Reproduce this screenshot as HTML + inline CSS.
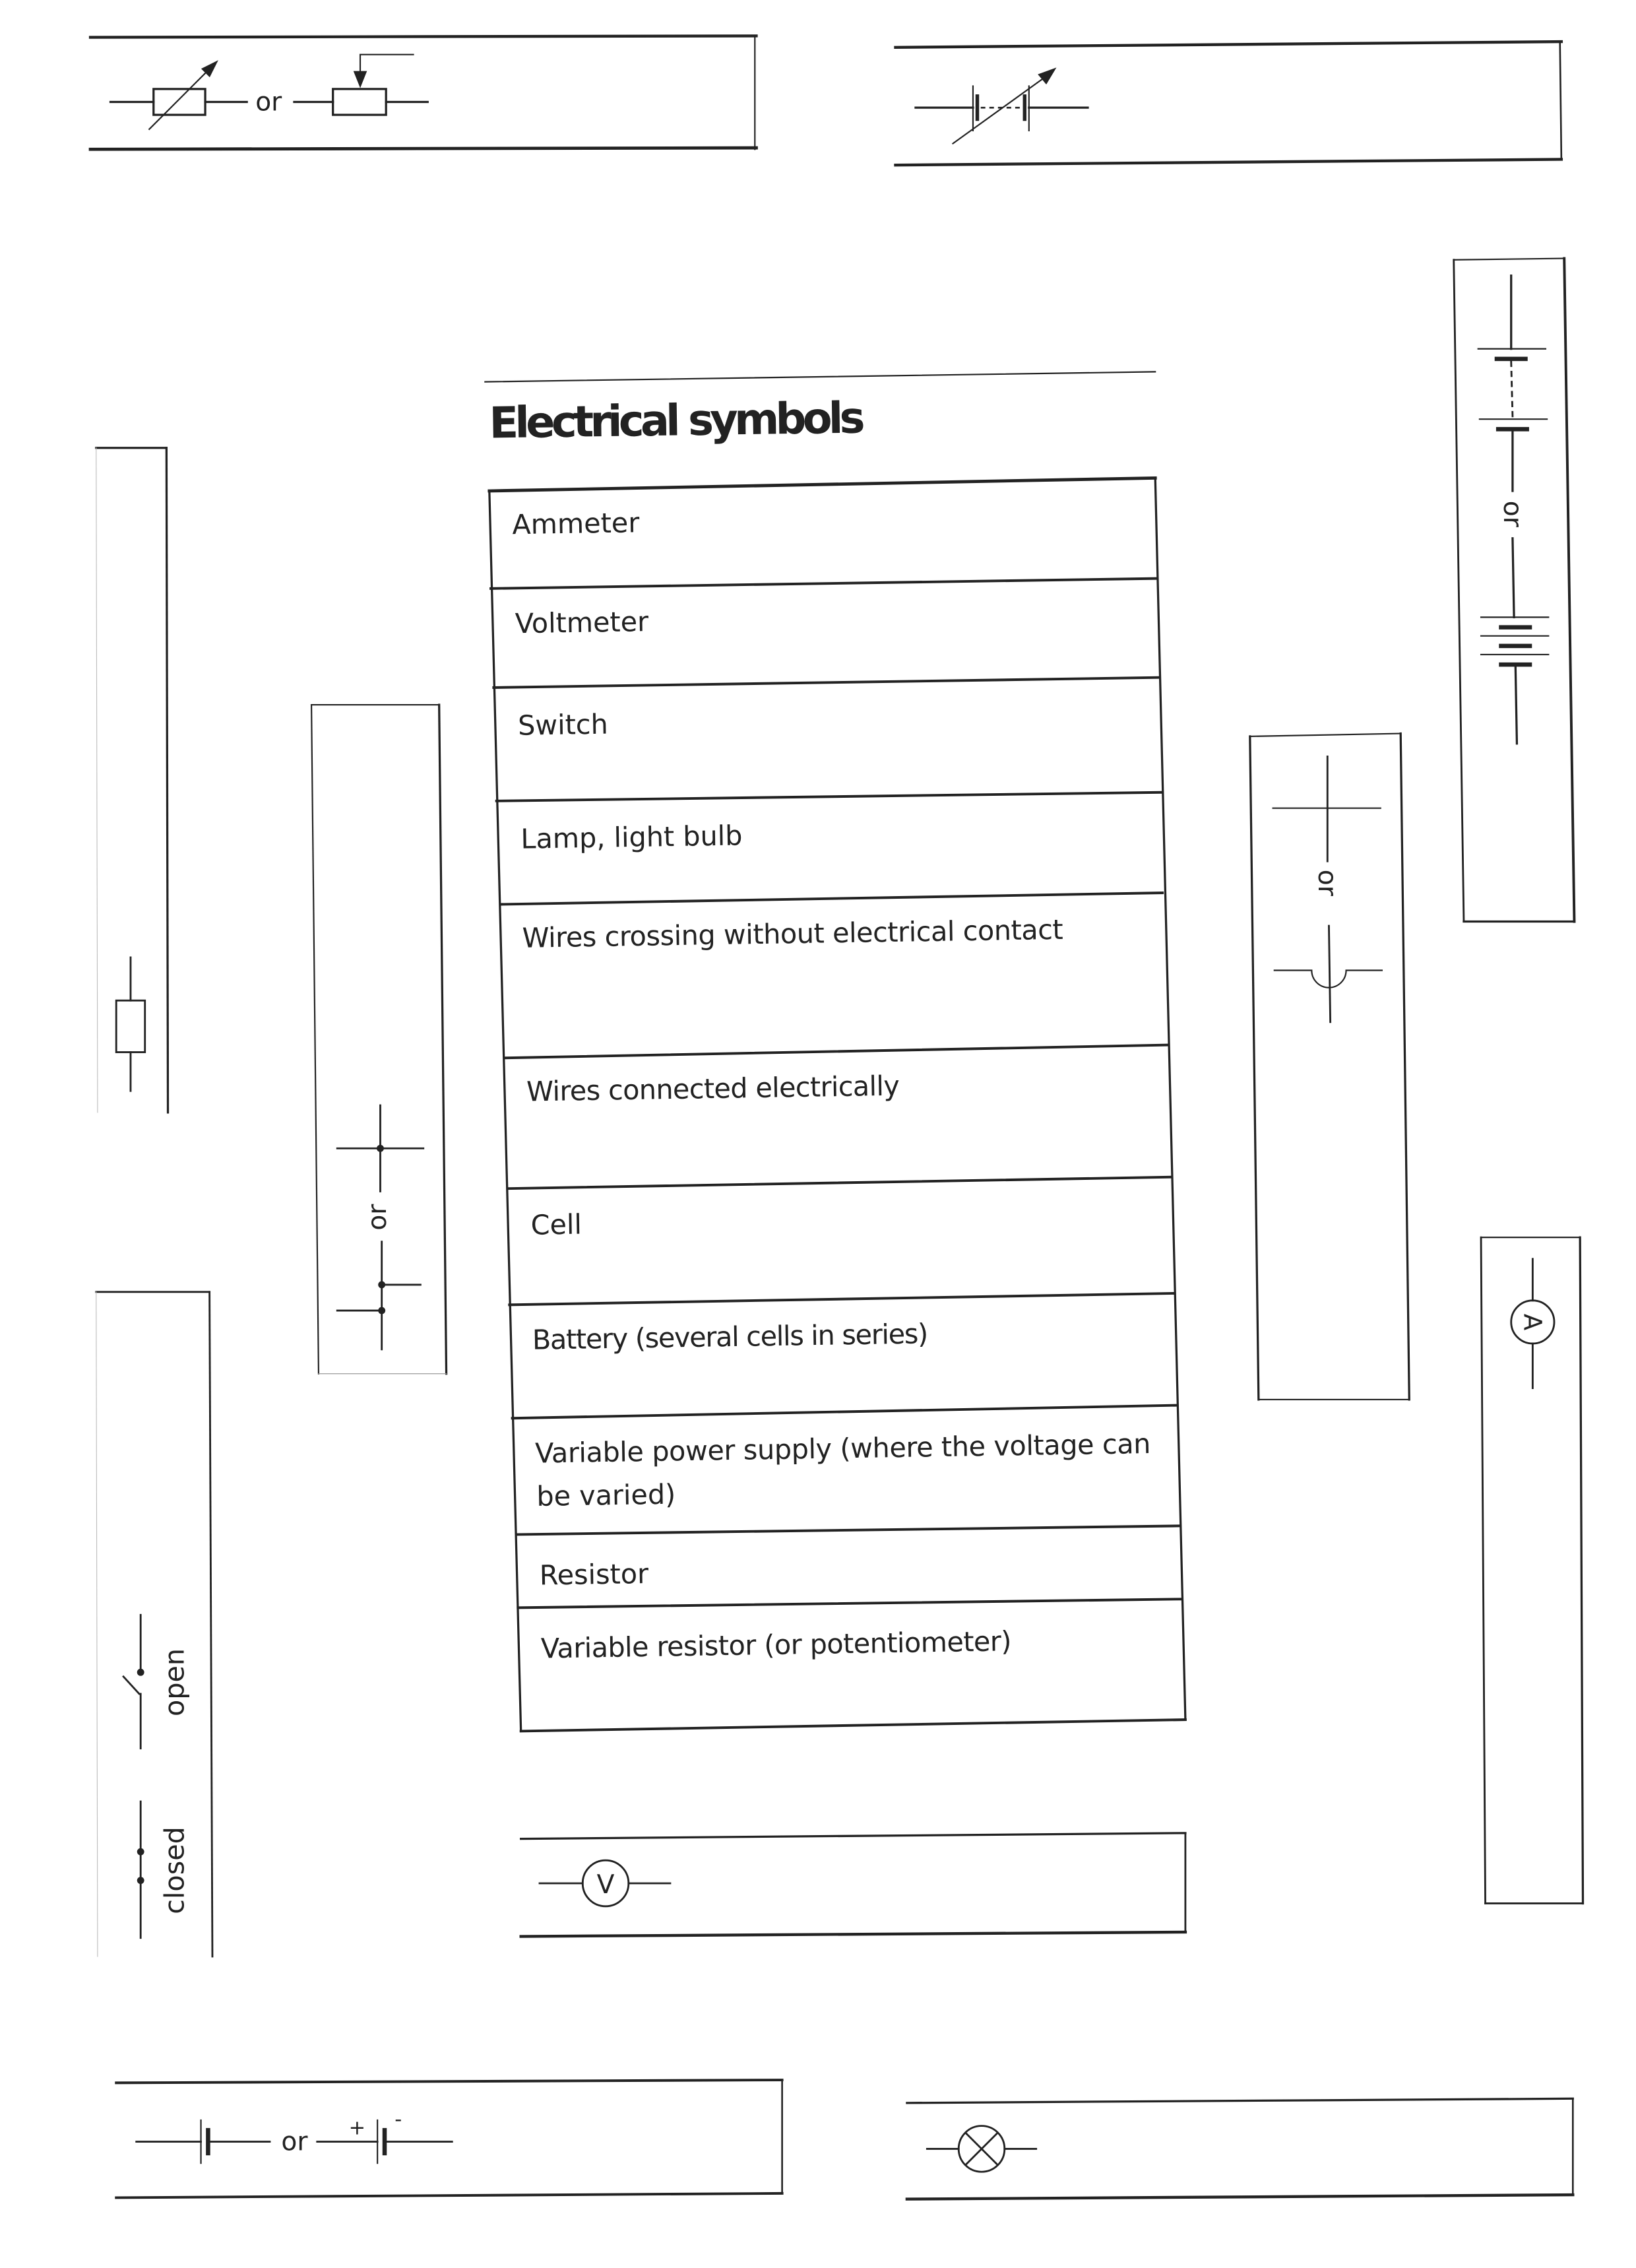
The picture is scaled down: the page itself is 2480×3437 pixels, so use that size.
<!DOCTYPE html>
<html><head><meta charset="utf-8"><style>
html,body{margin:0;padding:0;background:#fff;}
svg{display:block}
text{font-family:"DejaVu Sans","Liberation Sans",sans-serif;fill:#222;}
</style></head><body>
<svg width="2480" height="3437" viewBox="0 0 1140 1580" preserveAspectRatio="none" xmlns="http://www.w3.org/2000/svg">
<g stroke="#222" fill="none" stroke-linecap="square">
<!-- top-left box -->
<line x1="63" y1="26" x2="527" y2="25" stroke-width="2"/>
<line x1="63" y1="104" x2="527" y2="103" stroke-width="2.2"/>
<line x1="526" y1="25" x2="526" y2="104" stroke-width="1"/>
<line x1="77" y1="71" x2="107" y2="71" stroke-width="1.5"/>
<rect x="107" y="62" width="36" height="18" stroke-width="1.5"/>
<line x1="143" y1="71" x2="172" y2="71" stroke-width="1.5"/>
<line x1="104" y1="90" x2="148" y2="46" stroke-width="1"/>
<polygon points="151,43 141,48 146,53" fill="#222" stroke-width="1"/>
<line x1="205" y1="71" x2="232" y2="71" stroke-width="1.5"/>
<rect x="232" y="62" width="37" height="18" stroke-width="1.5"/>
<line x1="269" y1="71" x2="298" y2="71" stroke-width="1.5"/>
<polyline points="288,38 251,38 251,52" stroke-width="1"/>
<polygon points="251,60 247,50 255,50" fill="#222" stroke-width="1"/>
<!-- top-right box -->
<line x1="624" y1="33" x2="1088" y2="29" stroke-width="2"/>
<line x1="624" y1="115" x2="1088" y2="111" stroke-width="2"/>
<line x1="1087" y1="29" x2="1088" y2="111" stroke-width="1.2"/>
<line x1="638" y1="75" x2="678" y2="75" stroke-width="1.5"/>
<line x1="678" y1="60" x2="678" y2="91" stroke-width="1"/>
<line x1="681" y1="67" x2="681" y2="83" stroke-width="2.5"/>
<line x1="684" y1="75" x2="710" y2="75" stroke-width="1.2" stroke-dasharray="2,4"/>
<line x1="714" y1="67" x2="714" y2="83" stroke-width="2.5"/>
<line x1="717" y1="60" x2="717" y2="91" stroke-width="1"/>
<line x1="717" y1="75" x2="758" y2="75" stroke-width="1.5"/>
<line x1="664" y1="100" x2="732" y2="51" stroke-width="1"/>
<polygon points="735,48 724,52 729,58" fill="#222" stroke-width="1"/>
<!-- right tall box (battery) -->
<line x1="1013" y1="181" x2="1090" y2="180" stroke-width="1"/>
<line x1="1013" y1="181" x2="1020" y2="642" stroke-width="1.3"/>
<line x1="1090" y1="180" x2="1097" y2="642" stroke-width="1.8"/>
<line x1="1020" y1="642" x2="1097" y2="642" stroke-width="1.5"/>
<line x1="1053" y1="192" x2="1053" y2="243" stroke-width="1.5"/>
<line x1="1030" y1="243" x2="1077" y2="243" stroke-width="1"/>
<line x1="1043" y1="250" x2="1063" y2="250" stroke-width="3"/>
<line x1="1053" y1="252" x2="1054" y2="290" stroke-width="1.3" stroke-dasharray="3,4"/>
<line x1="1031" y1="292" x2="1078" y2="292" stroke-width="1"/>
<line x1="1044" y1="299" x2="1064" y2="299" stroke-width="3"/>
<line x1="1054" y1="300" x2="1054" y2="342" stroke-width="1.5"/>
<line x1="1054" y1="375" x2="1055" y2="430" stroke-width="1.5"/>
<line x1="1032" y1="430" x2="1079" y2="430" stroke-width="1"/>
<line x1="1046" y1="437" x2="1066" y2="437" stroke-width="3"/>
<line x1="1032" y1="443" x2="1079" y2="443" stroke-width="1"/>
<line x1="1046" y1="450" x2="1066" y2="450" stroke-width="3"/>
<line x1="1032" y1="456" x2="1079" y2="456" stroke-width="1"/>
<line x1="1046" y1="463" x2="1066" y2="463" stroke-width="3"/>
<line x1="1056" y1="463" x2="1057" y2="518" stroke-width="1.5"/>
<!-- left box 1 (resistor) -->
<line x1="67" y1="312" x2="116" y2="312" stroke-width="1.5"/>
<line x1="116" y1="312" x2="117" y2="775" stroke-width="1.5"/>
<line x1="67" y1="312" x2="68" y2="775" stroke-width="0.5" stroke="#bbb"/>
<line x1="91" y1="667" x2="91" y2="697" stroke-width="1.3"/>
<rect x="81" y="697" width="20" height="36" stroke-width="1.3"/>
<line x1="91" y1="733" x2="91" y2="760" stroke-width="1.3"/>
<!-- box 2 (wires connected) -->
<line x1="217" y1="491" x2="306" y2="491" stroke-width="1"/>
<line x1="217" y1="491" x2="222" y2="957" stroke-width="1"/>
<line x1="306" y1="491" x2="311" y2="957" stroke-width="1.5"/>
<line x1="222" y1="957" x2="311" y2="957" stroke-width="0.6" stroke="#999"/>
<line x1="265" y1="770" x2="265" y2="830" stroke-width="1.3"/>
<line x1="235" y1="800" x2="295" y2="800" stroke-width="1.3"/>
<line x1="266" y1="865" x2="266" y2="940" stroke-width="1.3"/>
<line x1="266" y1="895" x2="293" y2="895" stroke-width="1.3"/>
<line x1="235" y1="913" x2="266" y2="913" stroke-width="1.3"/>
<!-- box 3 (wires crossing) -->
<line x1="871" y1="513" x2="976" y2="511" stroke-width="1"/>
<line x1="871" y1="513" x2="877" y2="975" stroke-width="1.5"/>
<line x1="976" y1="511" x2="982" y2="975" stroke-width="1.5"/>
<line x1="877" y1="975" x2="982" y2="975" stroke-width="1"/>
<line x1="925" y1="527" x2="925" y2="600" stroke-width="1.3"/>
<line x1="887" y1="563" x2="962" y2="563" stroke-width="1"/>
<line x1="926" y1="645" x2="927" y2="712" stroke-width="1.3"/>
<path d="M888,676 H914 A12,12 0 0 0 938,676 H963" stroke-width="1"/>
<!-- box 4 (switch) -->
<line x1="67" y1="900" x2="146" y2="900" stroke-width="1.3"/>
<line x1="146" y1="900" x2="148" y2="1363" stroke-width="1.3"/>
<line x1="67" y1="900" x2="68" y2="1363" stroke-width="0.5" stroke="#bbb"/>
<line x1="98" y1="1125" x2="98" y2="1162" stroke-width="1.3"/>
<line x1="86" y1="1168" x2="97" y2="1180" stroke-width="1.3"/>
<line x1="98" y1="1180" x2="98" y2="1218" stroke-width="1.3"/>
<line x1="98" y1="1255" x2="98" y2="1350" stroke-width="1.3"/>
<!-- box 5 (ammeter) -->
<line x1="1032" y1="862" x2="1101" y2="862" stroke-width="1"/>
<line x1="1032" y1="862" x2="1035" y2="1326" stroke-width="1.3"/>
<line x1="1101" y1="862" x2="1103" y2="1326" stroke-width="1.5"/>
<line x1="1035" y1="1326" x2="1103" y2="1326" stroke-width="1.3"/>
<line x1="1068" y1="877" x2="1068" y2="906" stroke-width="1.3"/>
<circle cx="1068" cy="921" r="15" stroke-width="1.3"/>
<line x1="1068" y1="936" x2="1068" y2="967" stroke-width="1.3"/>
<!-- box 6 (voltmeter) -->
<line x1="363" y1="1281" x2="826" y2="1277" stroke-width="1.5"/>
<line x1="363" y1="1349" x2="826" y2="1346" stroke-width="2"/>
<line x1="826" y1="1277" x2="826" y2="1346" stroke-width="1.3"/>
<line x1="376" y1="1312" x2="406" y2="1312" stroke-width="1.3"/>
<circle cx="422" cy="1312" r="16" stroke-width="1.3"/>
<line x1="438" y1="1312" x2="467" y2="1312" stroke-width="1.3"/>
<!-- box 7 (cell) -->
<line x1="81" y1="1451" x2="545" y2="1449" stroke-width="1.8"/>
<line x1="81" y1="1531" x2="545" y2="1528" stroke-width="1.8"/>
<line x1="545" y1="1449" x2="545" y2="1528" stroke-width="1.2"/>
<line x1="95" y1="1492" x2="140" y2="1492" stroke-width="1.3"/>
<line x1="140" y1="1477" x2="140" y2="1507" stroke-width="1"/>
<line x1="145" y1="1484" x2="145" y2="1500" stroke-width="3"/>
<line x1="146" y1="1492" x2="188" y2="1492" stroke-width="1.3"/>
<line x1="221" y1="1492" x2="263" y2="1492" stroke-width="1.3"/>
<line x1="263" y1="1477" x2="263" y2="1507" stroke-width="1"/>
<line x1="268" y1="1484" x2="268" y2="1500" stroke-width="3"/>
<line x1="269" y1="1492" x2="315" y2="1492" stroke-width="1.3"/>
<!-- box 8 (lamp) -->
<line x1="632" y1="1465" x2="1096" y2="1462" stroke-width="1.5"/>
<line x1="632" y1="1532" x2="1096" y2="1529" stroke-width="2"/>
<line x1="1096" y1="1462" x2="1096" y2="1529" stroke-width="1.2"/>
<line x1="646" y1="1497" x2="668" y2="1497" stroke-width="1.3"/>
<circle cx="684" cy="1497" r="16" stroke-width="1.3"/>
<line x1="673" y1="1486" x2="695" y2="1508" stroke-width="1.3"/>
<line x1="695" y1="1486" x2="673" y2="1508" stroke-width="1.3"/>
<line x1="700" y1="1497" x2="722" y2="1497" stroke-width="1.3"/>
<!-- main table -->
<line x1="338" y1="266" x2="805" y2="259" stroke-width="1"/>
<line x1="341" y1="342" x2="805" y2="333" stroke-width="2.2"/>
<line x1="342" y1="410" x2="806" y2="403" stroke-width="1.8"/>
<line x1="344" y1="479" x2="807" y2="472" stroke-width="1.8"/>
<line x1="346" y1="558" x2="809" y2="552" stroke-width="1.8"/>
<line x1="349" y1="630" x2="810" y2="622" stroke-width="1.8"/>
<line x1="352" y1="737" x2="813" y2="728" stroke-width="1.8"/>
<line x1="354" y1="828" x2="816" y2="820" stroke-width="1.8"/>
<line x1="355" y1="909" x2="818" y2="901" stroke-width="1.8"/>
<line x1="357" y1="988" x2="820" y2="979" stroke-width="1.8"/>
<line x1="360" y1="1069" x2="822" y2="1063" stroke-width="1.8"/>
<line x1="361" y1="1120" x2="823" y2="1114" stroke-width="1.8"/>
<line x1="363" y1="1206" x2="826" y2="1198" stroke-width="1.8"/>
<line x1="341" y1="342" x2="363" y2="1206" stroke-width="1.5"/>
<line x1="805" y1="333" x2="826" y2="1198" stroke-width="1.5"/>
</g>
<g fill="#222">
<circle cx="265" cy="800" r="2.5"/>
<circle cx="266" cy="895" r="2.5"/>
<circle cx="266" cy="913" r="2.5"/>
<circle cx="98" cy="1165" r="2.5"/>
<circle cx="98" cy="1290" r="2.5"/>
<circle cx="98" cy="1310" r="2.5"/>
</g>
<text x="178" y="77" font-size="18" font-family="Liberation Sans">or</text>
<text x="196" y="1498" font-size="18" font-family="Liberation Sans">or</text>
<text x="243" y="1487" font-size="14" font-family="Liberation Sans">+</text>
<text x="275" y="1481" font-size="14" font-family="Liberation Sans">-</text>
<text x="422" y="1319" font-size="18" text-anchor="middle" font-family="Liberation Sans">V</text>
<text transform="translate(1068,921) rotate(90)" y="6" font-size="17" text-anchor="middle" font-family="Liberation Sans">A</text>
<text transform="translate(1054,358) rotate(90)" y="6" font-size="18" text-anchor="middle" font-family="Liberation Sans">or</text>
<text transform="translate(925,615) rotate(90)" y="6" font-size="18" text-anchor="middle" font-family="Liberation Sans">or</text>
<text transform="translate(263,848) rotate(-90)" y="6" font-size="18" text-anchor="middle" font-family="Liberation Sans">or</text>
<text transform="translate(122,1172) rotate(-90)" y="6" font-size="19" text-anchor="middle">open</text>
<text transform="translate(122,1303) rotate(-90)" y="6" font-size="19" text-anchor="middle">closed</text>
<text x="341" y="305" font-size="30" font-weight="bold" transform="rotate(-0.8 341 305)" textLength="262">Electrical symbols</text>
<g font-size="19">
<text x="357" y="372" transform="rotate(-0.9 357 372)">Ammeter</text>
<text x="359" y="441" transform="rotate(-0.9 359 441)">Voltmeter</text>
<text x="361" y="512" transform="rotate(-0.9 361 512)">Switch</text>
<text x="363" y="591" transform="rotate(-0.9 363 591)">Lamp, light bulb</text>
<text x="364" y="660" transform="rotate(-0.9 364 660)" textLength="377">Wires crossing without electrical contact</text>
<text x="367" y="767" transform="rotate(-0.9 367 767)" textLength="260">Wires connected electrically</text>
<text x="370" y="860" transform="rotate(-0.9 370 860)">Cell</text>
<text x="371" y="940" transform="rotate(-0.9 371 940)" textLength="276">Battery (several cells in series)</text>
<text x="373" y="1019" transform="rotate(-0.9 373 1019)" textLength="429">Variable power supply (where the voltage can</text>
<text x="374" y="1049" transform="rotate(-0.9 374 1049)">be varied)</text>
<text x="376" y="1104" transform="rotate(-0.9 376 1104)">Resistor</text>
<text x="377" y="1155" transform="rotate(-0.9 377 1155)" textLength="328">Variable resistor (or potentiometer)</text>
</g>
</svg>
</body></html>
